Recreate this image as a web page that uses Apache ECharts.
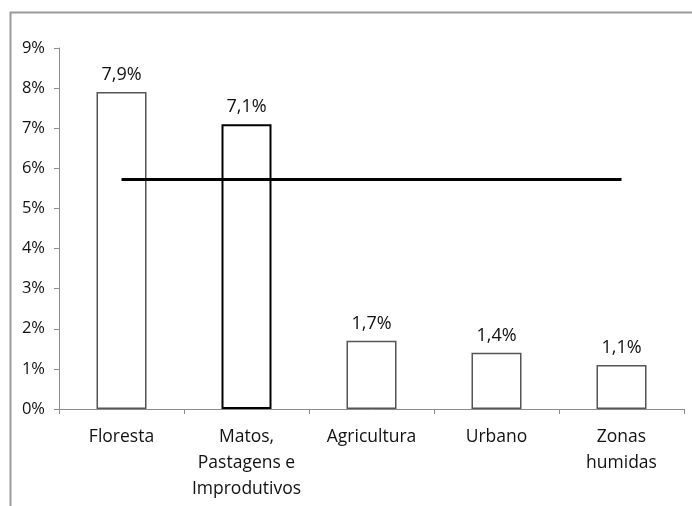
<!DOCTYPE html>
<html><head><meta charset="utf-8">
<script src="https://cdn.jsdelivr.net/npm/echarts@6/dist/echarts.min.js"></script>
<style>html,body{margin:0;padding:0;background:#fff}#c{width:692px;height:506px}</style>
</head><body><div id="c"></div>
<script>
const categories = ["Floresta", "Matos,\nPastagens e\nImprodutivos", "Agricultura", "Urbano", "Zonas\nhumidas"];
const values = [7.9, 7.1, 1.7, 1.4, 1.1];
const refLine = [5.72, 5.72, 5.72, 5.72, 5.72];
const yTicks = [0, 1, 2, 3, 4, 5, 6, 7, 8, 9];

const font = "Open Sans";
const chart = echarts.init(document.getElementById('c'), null, {renderer: 'canvas'});
chart.setOption({
  animation: false,
  backgroundColor: '#fff',
  grid: {left: 59, right: 8, top: 48, bottom: 97},
  graphic: [{
    type: 'polyline', silent: true,
    shape: {points: [[10.5, 506], [10.5, 12.5], [692, 12.5]]},
    style: {stroke: '#9a9a9a', lineWidth: 2, fill: null}
  }],
  xAxis: {
    type: 'category', data: categories,
    axisLine: {lineStyle: {color: '#8c8c8c', width: 1}},
    axisTick: {show: true, length: 5, lineStyle: {color: '#8c8c8c'}},
    axisLabel: {color: '#111', fontFamily: font, fontSize: 17.5, lineHeight: 26, margin: 15, interval: 0}
  },
  yAxis: {
    type: 'value', min: 0, max: yTicks[yTicks.length - 1], interval: 1,
    splitLine: {show: false},
    axisLine: {show: true, lineStyle: {color: '#8c8c8c', width: 1}},
    axisTick: {show: true, length: 5, lineStyle: {color: '#8c8c8c'}},
    axisLabel: {color: '#111', fontFamily: font, fontSize: 16.5, margin: 14, formatter: v => v + '%'}
  },
  series: [{
    type: 'bar', barWidth: 50, z: 2,
    data: values.map((v, i) => ({
      value: v,
      itemStyle: i === 1 ? {color: '#fff', borderColor: '#000', borderWidth: 2}
                         : {color: '#fff', borderColor: '#555', borderWidth: 1.5}
    })),
    label: {show: true, position: 'top', distance: 8, color: '#111', fontFamily: font, fontSize: 18,
      formatter: p => p.value.toFixed(1).replace('.', ',') + '%'}
  }, {
    type: 'line', data: refLine, z: 3, symbol: 'none',
    lineStyle: {color: '#000', width: 3}
  }]
});
</script></body></html>
